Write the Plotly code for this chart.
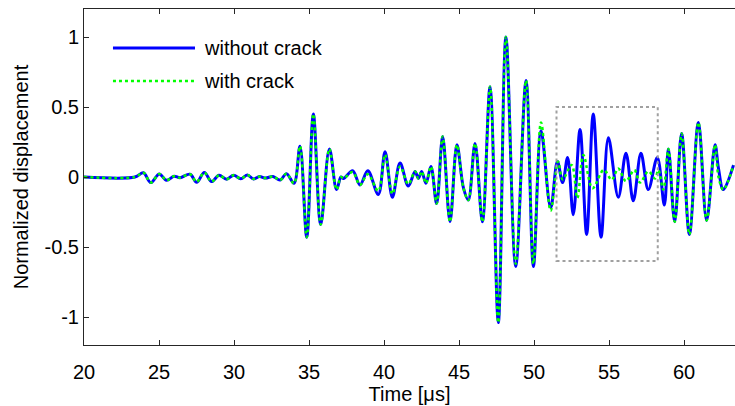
import plotly.graph_objects as go

# ---- data ----
time_without = [20.0, 23.4, 23.96, 24.45, 25.02, 25.5, 26.0, 26.4, 27.07, 27.51, 28.02, 28.51,
                29.0, 29.5, 29.98, 30.45, 30.9, 31.3, 31.7, 32.1, 32.6, 33.07, 33.5, 34.0,
                34.4, 34.85, 35.29, 35.78, 36.36, 36.84, 37.13, 37.3, 37.91, 38.4, 38.92,
                39.62, 40.07, 40.56, 41.07, 41.62, 42.07, 42.29, 42.51, 42.8, 43.13, 43.51,
                43.91, 44.4, 44.86, 45.3, 45.62, 46.07, 46.56, 47.07, 47.62, 48.13, 48.78,
                49.47, 49.96, 50.47, 51.11, 51.56, 51.91, 52.24, 52.62, 53.07, 53.51, 53.95,
                54.47, 54.96, 55.62, 56.13, 56.62, 57.13, 57.62, 58.22, 58.69, 58.96, 59.38,
                59.84, 60.36, 60.96, 61.51, 62.07, 62.3, 62.62, 63.3]
disp_without = [0.0, 0.0, 0.03, -0.04, 0.022, -0.024, 0.005, -0.005, 0.02, -0.038, 0.032, -0.033,
                0.013, -0.016, 0.013, -0.012, 0.014, -0.014, 0.003, -0.008, 0.004, -0.022, 0.024, -0.045,
                0.22, -0.43, 0.45, -0.34, 0.20, -0.09, 0.0, -0.01, 0.045, -0.057, 0.045,
                -0.125, 0.18, -0.145, 0.10, -0.065, 0.04, -0.01, 0.04, -0.045, 0.075, -0.19,
                0.29, -0.32, 0.23, -0.08, -0.165, 0.24, -0.32, 0.645, -1.04, 1.0, -0.64,
                0.69, -0.64, 0.33, -0.22, 0.11, -0.04, 0.14, -0.27, 0.34, -0.41, 0.45,
                -0.43, 0.28, -0.145, 0.17, -0.17, 0.17, -0.09, 0.14, -0.2, 0.2, -0.32,
                0.31, -0.41, 0.39, -0.31, 0.23, 0.06, -0.09, 0.085]

time_with = [20.0, 23.4, 23.96, 24.45, 25.02, 25.5, 26.0, 26.4, 27.07, 27.51, 28.02, 28.51,
             29.0, 29.5, 29.98, 30.45, 30.9, 31.3, 31.7, 32.1, 32.6, 33.07, 33.5, 34.0,
             34.4, 34.85, 35.29, 35.78, 36.36, 36.84, 37.13, 37.3, 37.91, 38.4, 38.92,
             39.62, 40.07, 40.56, 41.07, 41.62, 42.07, 42.29, 42.51, 42.8, 43.13, 43.51,
             43.91, 44.4, 44.86, 45.3, 45.62, 46.07, 46.56, 47.07, 47.62, 48.13, 48.78,
             49.47, 49.96, 50.47, 51.11, 51.6, 51.91, 52.51, 52.89, 53.29, 53.9, 54.65,
             55.18, 55.62, 56.13, 56.69, 57.07, 57.62, 58.07, 58.29, 58.62, 58.96, 59.38,
             59.84, 60.36, 60.96, 61.51, 62.07, 62.3, 62.62, 63.3]
disp_with = [0.0, 0.0, 0.03, -0.04, 0.022, -0.024, 0.005, -0.005, 0.02, -0.035, 0.032, -0.033,
             0.013, -0.016, 0.013, -0.012, 0.014, -0.014, 0.003, -0.008, 0.004, -0.022, 0.024, -0.045,
             0.22, -0.43, 0.45, -0.34, 0.20, -0.09, 0.0, -0.01, 0.035, -0.057, 0.02,
             -0.10, 0.16, -0.12, 0.075, -0.05, 0.04, -0.01, 0.04, -0.045, 0.075, -0.19,
             0.29, -0.32, 0.23, -0.08, -0.165, 0.24, -0.32, 0.645, -1.04, 1.0, -0.62,
             0.69, -0.62, 0.39, -0.24, 0.11, -0.017, 0.086, -0.15, 0.157, -0.08, 0.05,
             -0.02, 0.06, -0.03, 0.05, -0.04, 0.04, -0.01, 0.05, -0.09, 0.2, -0.32,
             0.31, -0.41, 0.39, -0.31, 0.23, 0.0, -0.09, 0.085]

x_ticks = [20, 25, 30, 35, 40, 45, 50, 55, 60]
y_ticks = [-1, -0.5, 0, 0.5, 1]
y_tick_labels = ["-1", "-0.5", "0", "0.5", "1"]
series_names = ["without crack", "with crack"]
zoom_box_time = [51.5, 58.25]
zoom_box_disp = [-0.6, 0.5]

FONT = "Arial, Liberation Sans, Helvetica, sans-serif"
AXC = "#262626"
FS = 20

fig = go.Figure()
fig.add_trace(go.Scatter(x=time_without, y=disp_without, mode="lines", name=series_names[0],
                         line=dict(color="#0000ff", width=3, shape="spline", smoothing=1.0),
                         showlegend=False))
fig.add_trace(go.Scatter(x=time_with, y=disp_with, mode="lines", name=series_names[1],
                         line=dict(color="#00ff00", width=2.5, dash="dot", shape="spline", smoothing=1.0),
                         showlegend=False))

# dotted zoom box
fig.add_shape(type="rect", xref="x", yref="y",
              x0=zoom_box_time[0], x1=zoom_box_time[1], y0=zoom_box_disp[0], y1=zoom_box_disp[1],
              line=dict(color="#a0a0a0", width=2, dash="dot"), fillcolor="rgba(0,0,0,0)")

# legend (drawn manually, no frame)
fig.add_shape(type="line", xref="paper", yref="paper", x0=0.0445, x1=0.1705, y0=0.8839, y1=0.8839,
              line=dict(color="#0000ff", width=3))
fig.add_shape(type="line", xref="paper", yref="paper", x0=0.0445, x1=0.1705, y0=0.7857, y1=0.7857,
              line=dict(color="#00ff00", width=2.5, dash="dot"))
for name, yy in zip(series_names, [0.8839, 0.7857]):
    fig.add_annotation(text=name, xref="paper", yref="paper", x=0.182, y=yy,
                       xanchor="left", yanchor="middle", showarrow=False,
                       font=dict(family=FONT, size=FS, color="black"))

fig.update_layout(
    width=735, height=406,
    margin=dict(l=84, r=0, t=9, b=61, autoexpand=False),
    paper_bgcolor="white", plot_bgcolor="white",
    font=dict(family=FONT, size=FS, color="black"),
    showlegend=False,
)
fig.update_xaxes(range=[20, 63.4], tickvals=x_ticks, ticks="inside", ticklen=5, tickcolor=AXC,
                 showline=True, linecolor=AXC, linewidth=1, mirror="ticks", showgrid=False,
                 zeroline=False, tickfont=dict(size=FS), automargin=False, ticklabelstandoff=9,
                 title=dict(text="Time [\u03bcs]", font=dict(size=FS), standoff=4))
fig.update_yaxes(range=[-1.2, 1.2], tickvals=y_ticks, ticktext=y_tick_labels, ticks="inside",
                 ticklen=5, tickcolor=AXC, showline=True, linecolor=AXC, linewidth=1,
                 showgrid=False, zeroline=False, tickfont=dict(size=FS), automargin=False,
                 title=dict(text="Normalized displacement", font=dict(size=FS), standoff=10))

fig.write_html("out.html", config={"displayModeBar": False},
               post_script="document.body.style.margin='0';document.body.style.overflow='hidden';")
